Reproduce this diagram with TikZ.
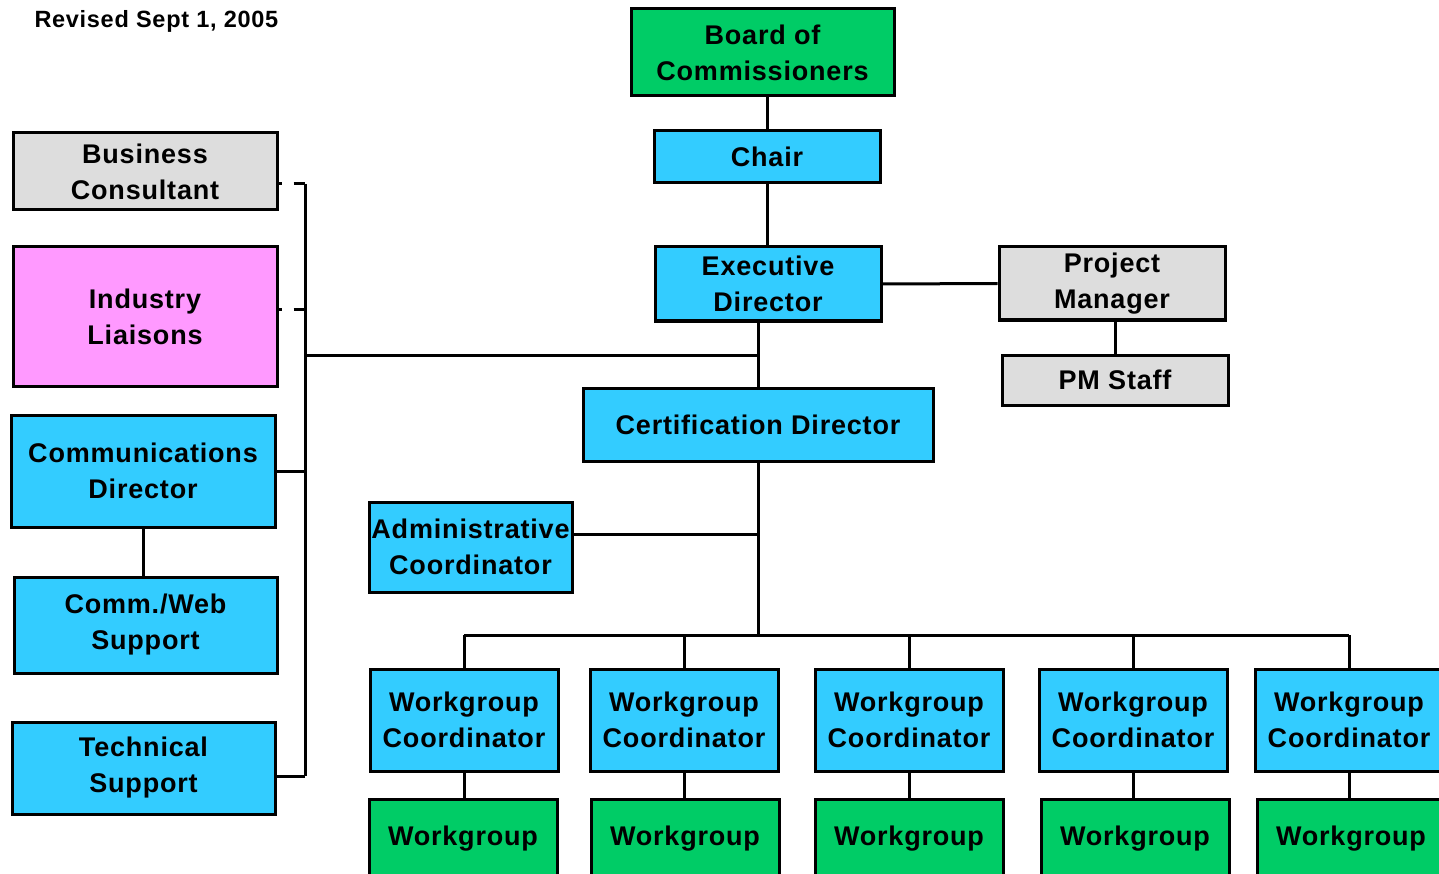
\documentclass[tikz,border=0pt]{standalone}
\usepackage{fontspec}
\setmainfont[LetterSpace=3]{Liberation Sans}
\definecolor{boxgreen}{RGB}{0,204,102}
\definecolor{boxblue}{RGB}{51,204,255}
\definecolor{boxgray}{RGB}{221,221,221}
\definecolor{boxpink}{RGB}{255,153,255}
\begin{document}
\begin{tikzpicture}[x=1pt, y=-1pt,
	box/.style={draw=black, text=black, shape=rectangle, line width=3pt, inner sep=0pt, align=center, font=\bfseries\fontsize{27}{36}\selectfont},
	green box/.style={box, fill=boxgreen},
	blue box/.style={box, fill=boxblue},
	gray box/.style={box, fill=boxgray},
	pink box/.style={box, fill=boxpink},
	link/.style={draw=black, line width=3pt},
	stub/.style={link, dash pattern=on 3pt off 12pt on 14pt off 0pt}]
	\clip (0,0) rectangle (1439,874);

	\node[anchor=base west, font=\bfseries\fontsize{23.5}{26}\selectfont] (rev) at (31,28) {Revised Sept 1, 2005};

	% main chain
	\node[green box, minimum width=263, minimum height=87] (board) at (762.5,52.5) {Board of\\Commissioners};
	\node[blue box, minimum width=226, minimum height=52] (chair) at (767,157) {Chair};
	\node[blue box, minimum width=226, minimum height=74] (exec) at (768,284) {Executive\\Director};
	\node[gray box, minimum width=226, minimum height=73] (pm) at (1112,283.5) {Project\\Manager};
	\node[gray box, minimum width=226, minimum height=50] (pm_staff) at (1115,380) {PM Staff};
	\node[blue box, minimum width=350, minimum height=73] (cert) at (758,424.5) {Certification Director};
	\node[blue box, minimum width=203, minimum height=90] (admin) at (470.5,547) {Administrative\\Coordinator};

	% left column
	\node[gray box, minimum width=264, minimum height=77] (biz) at (145,171.5) {Business\\Consultant};
	\node[pink box, minimum width=264, minimum height=139] (liaisons) at (145,316.5) {Industry\\Liaisons};
	\node[blue box, minimum width=264, minimum height=112] (comm_dir) at (143,471) {Communications\\Director};
	\node[blue box, minimum width=263, minimum height=96] (web) at (145.5,625) {Comm./Web\\Support};
	\node[blue box, minimum width=263, minimum height=92] (tech) at (143.5,768) {Technical\\Support};

	% workgroups
	\foreach \i/\xc/\xg in {1/464/463, 2/684/685, 3/909/909, 4/1133/1135, 5/1349/1351} {
		\node[blue box, minimum width=188, minimum height=102] (wc_\i) at (\xc,720) {Workgroup\\Coordinator};
		\node[green box, minimum width=188, minimum height=80] (wg_\i) at (\xg,839) {Workgroup};
	}

	\coordinate (lbus_top) at (305,184);
	\coordinate (lbus_mid) at (305,355);
	\coordinate (lbus_bot) at (305,776);
	\coordinate (wbus) at (758,635);

	\draw[link] (chair.north) -- (chair.north |- board.south);
	\draw[link] (chair.south) -- (chair.south |- exec.north);
	\draw[link] (exec.east) -- (pm.west);
	\draw[link] (pm_staff.north) -- (pm_staff.north |- pm.south);
	\draw[link] (cert.north) -- (cert.north |- exec.south);
	\draw[link] (cert.north |- lbus_mid) -- (lbus_mid);
	\draw[link] (lbus_top) -- (lbus_bot);
	\draw[stub] (biz.east |- lbus_top) -- (lbus_top);
	\draw[stub] ([yshift=7pt]liaisons.east) -- ([yshift=7pt]liaisons.east -| lbus_top);
	\draw[link] (comm_dir.east) -- (comm_dir.east -| lbus_top);
	\draw[link] (tech.east |- lbus_bot) -- (lbus_bot);
	\draw[link] (comm_dir.south) -- (comm_dir.south |- web.north);
	\draw[link] (cert.south) -- (wbus);
	\draw[link] ([yshift=13pt]admin.east) -- ([yshift=13pt]admin.east -| wbus);
	\draw[link] (wc_1.north |- wbus) -- (wc_5.north |- wbus);
	\foreach \i in {1,...,5} {
		\draw[link] (wc_\i.north) -- (wc_\i.north |- wbus);
		\draw[link] (wc_\i.south) -- (wc_\i.south |- wg_\i.north);
	}
\end{tikzpicture}
\end{document}
